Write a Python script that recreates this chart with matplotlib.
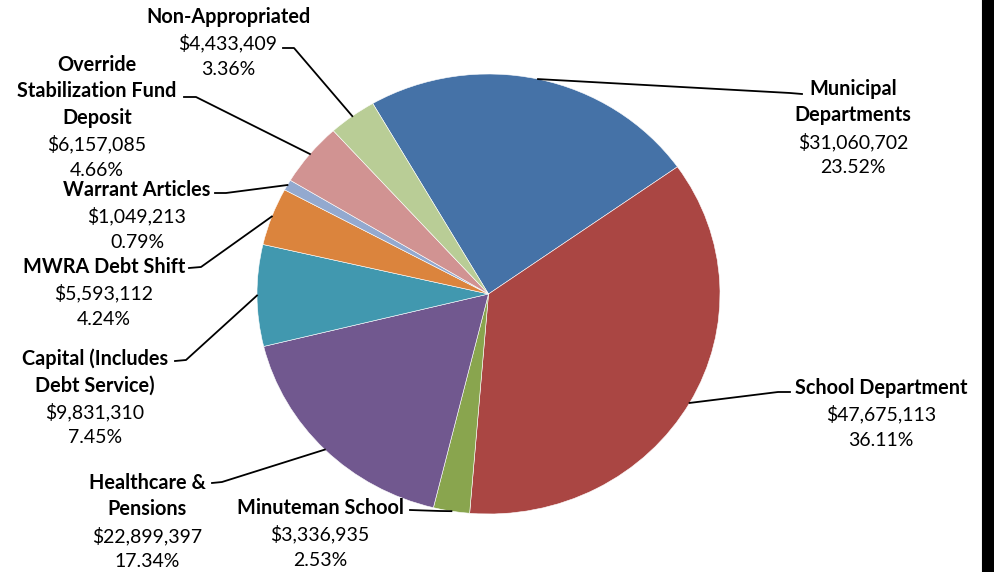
import numpy as np
import matplotlib
matplotlib.use("Agg")
import matplotlib.pyplot as plt
from matplotlib.lines import Line2D
from matplotlib.patches import Rectangle

# slice data (clockwise order, as in the spreadsheet)
names = ['Municipal\nDepartments', 'School Department', 'Minuteman School',
         'Healthcare &\nPensions', 'Capital (Includes\nDebt Service)',
         'MWRA Debt Shift', 'Warrant Articles',
         'Override\nStabilization Fund\nDeposit', 'Non-Appropriated']
amounts = [31060702, 47675113, 3336935, 22899397, 9831310,
           5593112, 1049213, 6157085, 4433409]
colors = ['#4572A7', '#AA4643', '#89A54E', '#71588F', '#4198AF',
          '#DB843D', '#93A9CF', '#D19392', '#B9CD96']

# label layout in image pixels: text centre x, first line y, elbow, line end
lab_x = [853, 881, 320, 147, 95, 104, 137, 97, 228]
lab_y = [89, 388, 508, 483, 359, 267, 190, 65, 17]
elbow = [(790, 93), (778, 392), (440, 511), (222, 482), (186, 360),
         (201, 267), (226, 193), (196, 97), (294, 48)]
lend = [(802, 94), (790, 392), (410, 510), (212, 483), (175, 361),
        (189, 268), (215, 193), (184, 97), (283, 48)]

W, H = 994, 572
plt.rcParams['font.family'] = ['Lato', 'DejaVu Sans']
fig = plt.figure(figsize=(W / 100, H / 100), dpi=100)

def fx(x):
    return x / W

def fy(y):
    return 1 - y / H

# pie is slightly squashed: 463 px wide, 440 px tall
ax = fig.add_axes([fx(257), fy(514), 463 / W, 440 / H])
wedges, _ = ax.pie(amounts, colors=colors, startangle=120, counterclock=False,
                   radius=1, wedgeprops=dict(edgecolor='white', linewidth=0.4))
ax.set_aspect('auto')
ax.set_xlim(-1, 1)
ax.set_ylim(-1, 1)

total = sum(amounts)
inv = fig.transFigure.inverted()
step = 26.3
for i, w in enumerate(wedges):
    mid = np.deg2rad((w.theta1 + w.theta2) / 2)
    rim = inv.transform(ax.transData.transform((np.cos(mid), np.sin(mid))))
    xs = [rim[0], fx(elbow[i][0]), fx(lend[i][0])]
    ys = [rim[1], fy(elbow[i][1]), fy(lend[i][1])]
    fig.add_artist(Line2D(xs, ys, color='black', lw=1.3))

    lines = names[i].split('\n')
    y = lab_y[i]
    for ln in lines:
        fig.text(fx(lab_x[i]), fy(y), ln, ha='center', va='center',
                 fontsize=14.3, fontweight='bold')
        y += step
    fig.text(fx(lab_x[i]), fy(y), '${:,}'.format(amounts[i]),
             ha='center', va='center', fontsize=14)
    y += step
    fig.text(fx(lab_x[i]), fy(y), '{:.2f}%'.format(amounts[i] / total * 100),
             ha='center', va='center', fontsize=14)

# frame on the right edge
fig.add_artist(Line2D([fx(981.5), fx(981.5)], [0, 1], color='black', lw=0.8))
fig.add_artist(Rectangle((fx(983), 0), 11 / W, 1, color='black',
                         transform=fig.transFigure))

fig.savefig('out.png', dpi=100)
